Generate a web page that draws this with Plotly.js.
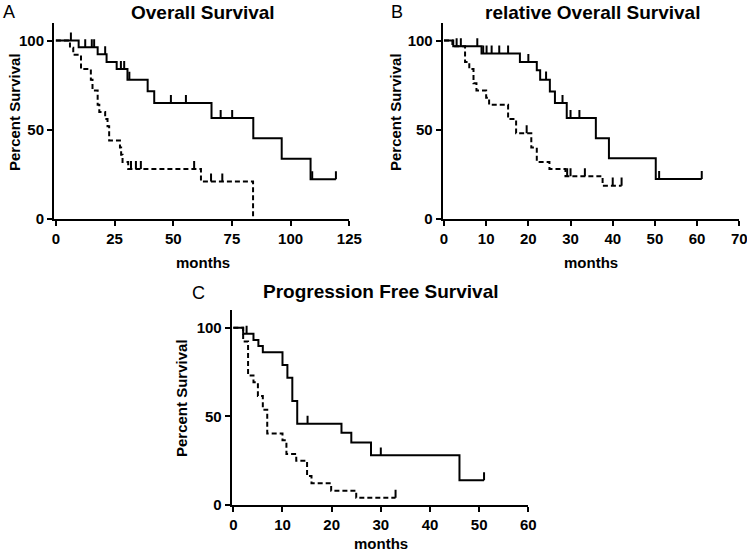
<!DOCTYPE html>
<html>
<head>
<meta charset="utf-8">
<script src="https://cdn.plot.ly/plotly-3.0.1.min.js"></script>
<style>html,body{margin:0;padding:0;background:#fff;}#chart{width:747px;height:554px;}</style>
</head>
<body>
<div id="chart"></div>
<script>
// ---- Data (months, percent survival) ----
// Panel A: Overall Survival
const A_solid_t = [0, 9.7, 17.8, 21.6, 25.9, 30.5, 39.1, 41.9, 66.3, 84.1, 96.2, 108.5];
const A_solid_s = [100, 96.2, 92.3, 88, 84, 78, 71.6, 65, 56.6, 45.3, 33.7, 22.3];
const A_solid_end = 119.3;
const A_solid_cens = [6.4, 12.5, 15.3, 16.3, 21.0, 27.7, 29.1, 31.3, 49.0, 55.4, 70.2, 75.1, 109.2, 119.3];

const A_dash_t = [0, 6.0, 7.4, 10.7, 14.9, 15.6, 17.8, 18.5, 21.0, 22.0, 22.7, 27.3, 27.8, 28.4, 30.8, 61.8, 84.0];
const A_dash_s = [100, 96, 92, 84, 78, 72, 64, 60, 56, 52, 44, 40, 36, 32, 28, 21, 0];
const A_dash_end = 84.0;
const A_dash_cens = [32.0, 34.1, 36.2, 58.9, 66.1, 70.9];

// Panel B: relative Overall Survival
const B_solid_t = [0, 2.2, 8.9, 18.0, 22.0, 22.8, 25.1, 26.3, 29.1, 36.0, 39.1, 50.2];
const B_solid_s = [100, 96.8, 92.7, 88, 83.3, 78.1, 71.5, 65, 56.6, 45.3, 34.1, 22.4];
const B_solid_end = 61.1;
const B_solid_cens = [3.0, 7.9, 9.3, 10.1, 11.3, 13.1, 15.2, 20.0, 24.2, 28.1, 30.0, 32.1, 51.0, 61.1];

const B_dash_t = [0, 2.0, 5.0, 6.0, 7.0, 7.7, 10.0, 10.7, 15.2, 17.1, 20.7, 22.0, 25.0, 28.8, 37.6];
const B_dash_s = [100, 96.8, 88, 84, 76, 72, 68, 64, 56, 48, 40, 32, 28, 24, 18.7];
const B_dash_end = 42.1;
const B_dash_cens = [4.0, 19.6, 29.2, 30.0, 33.4, 40.0, 42.1];

// Panel C: Progression Free Survival
const C_solid_t = [0, 2.0, 4.1, 5.1, 6.0, 10.0, 11.0, 12.0, 13.0, 22.0, 24.0, 28.0, 46.0];
const C_solid_s = [100, 96.6, 93.1, 89.7, 86.2, 79.0, 71.8, 58.6, 45.8, 40.8, 35.2, 28.0, 14.0];
const C_solid_end = 51.0;
const C_solid_cens = [2.7, 15.1, 30.0, 51.0];

const C_dash_t = [0, 2.0, 3.0, 4.1, 5.0, 6.0, 6.9, 10.0, 10.8, 12.8, 15.0, 15.9, 19.9, 25.0];
const C_dash_s = [100, 92.3, 73.1, 69.2, 61.5, 53.8, 40.4, 36.5, 28.8, 25.0, 16.3, 12.2, 8.1, 4.1];
const C_dash_end = 33.0;
const C_dash_cens = [33.0];

// Tick labels
const yTicks = [0, 50, 100];
const xTicksA = [0, 25, 50, 75, 100, 125];
const xTicksB = [0, 10, 20, 30, 40, 50, 60, 70];
const xTicksC = [0, 10, 20, 30, 40, 50, 60];

// ---- Builders ----
const FONT = 'Liberation Sans, Arial, Helvetica, sans-serif';
const TICK_H = 4.5;
function stepTrace(t, s, end, xa, ya, dash) {
  const x = t.slice(), y = s.slice();
  if (end > t[t.length - 1]) { x.push(end); y.push(s[s.length - 1]); }
  return {x, y, xaxis: xa, yaxis: ya, mode: 'lines', type: 'scatter',
    line: {shape: 'hv', color: '#000', width: 2, dash: dash ? '5px,3px' : 'solid'},
    hoverinfo: 'skip', showlegend: false};
}
function levelAt(t, s, time) {
  let v = s[0];
  for (let i = 0; i < t.length; i++) if (t[i] <= time) v = s[i];
  return v;
}
function censTrace(t, s, cens, xa, ya) {
  const x = [], y = [];
  cens.forEach(c => { const L = levelAt(t, s, c); x.push(c, c, null); y.push(L, L + TICK_H, null); });
  return {x, y, xaxis: xa, yaxis: ya, mode: 'lines', type: 'scatter',
    line: {color: '#000', width: 2}, hoverinfo: 'skip', showlegend: false};
}

const data = [
  stepTrace(A_solid_t, A_solid_s, A_solid_end, 'x', 'y', false),
  censTrace(A_solid_t, A_solid_s, A_solid_cens, 'x', 'y'),
  stepTrace(A_dash_t, A_dash_s, A_dash_end, 'x', 'y', true),
  censTrace(A_dash_t, A_dash_s, A_dash_cens, 'x', 'y'),
  stepTrace(B_solid_t, B_solid_s, B_solid_end, 'x2', 'y2', false),
  censTrace(B_solid_t, B_solid_s, B_solid_cens, 'x2', 'y2'),
  stepTrace(B_dash_t, B_dash_s, B_dash_end, 'x2', 'y2', true),
  censTrace(B_dash_t, B_dash_s, B_dash_cens, 'x2', 'y2'),
  stepTrace(C_solid_t, C_solid_s, C_solid_end, 'x3', 'y3', false),
  censTrace(C_solid_t, C_solid_s, C_solid_cens, 'x3', 'y3'),
  stepTrace(C_dash_t, C_dash_s, C_dash_end, 'x3', 'y3', true),
  censTrace(C_dash_t, C_dash_s, C_dash_cens, 'x3', 'y3'),
];

const W = 747, H = 554;
const px = v => v / W, py = v => 1 - v / H;
const axBase = {showline: true, linewidth: 2, linecolor: '#000', ticks: 'outside', ticklen: 5,
  tickwidth: 2, tickcolor: '#000', showgrid: false, zeroline: false, fixedrange: true,
  ticklabeloverflow: 'allow',
  tickfont: {family: FONT, size: 15, weight: 'bold', color: '#000'}};
const yAx = (anchor, dom) => Object.assign({}, axBase, {anchor, domain: dom, range: [0, 110],
  tickmode: 'array', tickvals: yTicks, ticktext: yTicks.map(String)});
const xAx = (anchor, dom, rng, ticks) => Object.assign({}, axBase, {anchor, domain: dom, range: rng,
  tickmode: 'array', tickvals: ticks, ticktext: ticks.map(String)});

function ann(text, x, y, size, bold, angle, yanchor) {
  return {text, x: px(x), y: py(y), xref: 'paper', yref: 'paper', showarrow: false,
    xanchor: 'center', yanchor: yanchor || 'middle', textangle: angle || 0,
    font: {family: FONT, size, weight: bold ? 'bold' : 'normal', color: '#000'}};
}

const layout = {
  width: W, height: H, margin: {l: 0, r: 0, t: 0, b: 0},
  paper_bgcolor: '#fff', plot_bgcolor: '#fff', showlegend: false,
  xaxis: xAx('y', [px(54), px(349.3)], [-0.8, 125], xTicksA),
  yaxis: yAx('x', [py(219), py(22.7)]),
  xaxis2: xAx('y2', [px(442.7), px(739.3)], [-0.3, 70], xTicksB),
  yaxis2: yAx('x2', [py(219), py(22.7)]),
  xaxis3: xAx('y3', [px(231.7), px(528.3)], [-0.33, 60], xTicksC),
  yaxis3: yAx('x3', [py(505), py(310)]),
  annotations: [
    ann('A', 9, 0, 18, false, 0, 'top'),
    ann('Overall Survival', 203, 0, 19, true, 0, 'top'),
    ann('months', 203, 262, 15, true),
    ann('Percent Survival', 15, 112, 15, true, -90),
    ann('B', 397.5, 0, 18, false, 0, 'top'),
    ann('relative Overall Survival', 592, 0, 19, true, 0, 'top'),
    ann('months', 591, 262, 15, true),
    ann('Percent Survival', 396, 112, 15, true, -90),
    ann('C', 198, 293, 18, false),
    ann('Progression Free Survival', 381, 291, 19, true),
    ann('months', 381, 554, 15, true, 0, 'bottom'),
    ann('Percent Survival', 181, 398, 15, true, -90),
  ]
};

Plotly.newPlot('chart', data, layout, {displayModeBar: false, staticPlot: true});
</script>
</body>
</html>
